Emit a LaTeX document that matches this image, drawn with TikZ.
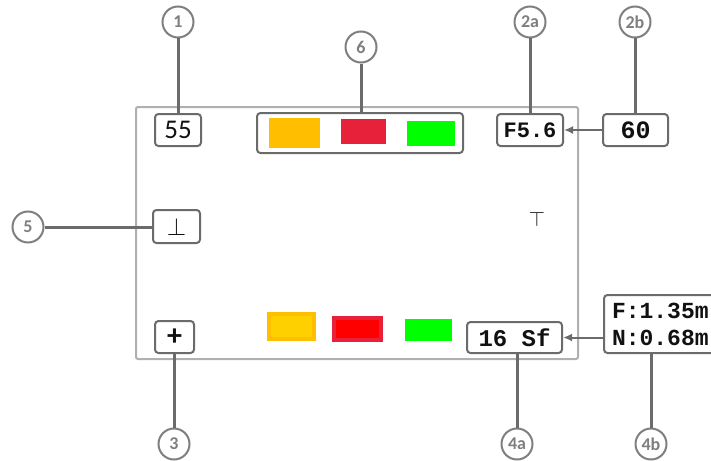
\documentclass[tikz,border=0pt]{standalone}
\usepackage{fontspec}
\setmainfont{Carlito}
\newfontfamily\vfmono{Liberation Mono}
\usetikzlibrary{arrows.meta,positioning}
\definecolor{vfFrame}{HTML}{B0B0B0}
\definecolor{vfLine}{HTML}{6B6B6B}
\definecolor{vfTag}{HTML}{7F7F7F}
\definecolor{vfInk}{HTML}{111111}
\definecolor{vfAmber}{HTML}{FFBF00}
\definecolor{vfYellow}{HTML}{FFD000}
\definecolor{vfCrimson}{HTML}{E8213A}
\definecolor{vfRed}{HTML}{FF0000}
\definecolor{vfGreen}{HTML}{00FF00}
\tikzset{
  every picture/.style={text=vfInk},
  vf frame/.style={draw=vfFrame, line width=2pt, rounded corners=2pt},
  vf box/.style={draw=vfLine, line width=2pt, rounded corners=3.5pt,
    fill=white, inner sep=0pt, minimum height=32pt},
  vf tag/.style={circle, draw=vfTag, line width=2pt, fill=white,
    minimum size=31pt, inner sep=0pt, text=vfTag,
    font=\bfseries\fontsize{18}{18}\selectfont},
  vf lead/.style={draw=vfLine, line width=3pt},
  vf arrow/.style={-{Latex[length=9pt,width=8pt]}, draw=vfLine,
    line width=2pt},
  vf mono/.style={font=\vfmono\bfseries\fontsize{#1}{27}\selectfont},
  vf mono/.default=24,
  vf sans/.style={font=\fontsize{27}{27}\selectfont}
}
\begin{document}
\begin{tikzpicture}[x=1pt,y=-1pt]
  \useasboundingbox (0,0) rectangle (711,460);
  \draw[vf frame] (136,107) rectangle (578,359);

  % readouts in the frame
  \node[vf box, vf sans, minimum width=46pt] (iso) at (178,130) {55};
  \node[vf box, minimum width=206pt, minimum height=40pt] (wb) at (360,133) {};
  \fill[vfAmber] (269,118) rectangle (320,148);
  \fill[vfCrimson] (341,119) rectangle (386,144);
  \fill[vfGreen] (407,121) rectangle (455,146);
  \node[vf box, vf mono=22, minimum width=66pt] (ap) at (530,130) {F5.6};
  \node[vf box, vf mono=25, minimum width=65pt] (sh) at (635.5,130) {60};
  \node[vf box, minimum width=47pt, minimum height=33pt,
    font=\fontsize{24}{24}\selectfont] (fl) at (176.5,226.5) {$\perp$};
  \node[font=\fontsize{22}{22}\selectfont] (tp) at (537,219) {$\top$};
  \node[vf box, minimum width=39pt, font=\bfseries\fontsize{30}{30}\selectfont]
    (ev) at (174.5,337) {+};
  \filldraw[draw=vfAmber, fill=vfYellow, line width=4pt] (269,314) rectangle (314,339);
  \filldraw[draw=vfCrimson, fill=vfRed, line width=4pt] (334,318) rectangle (381,340);
  \fill[vfGreen] (405,319) rectangle (452,341);
  \node[vf box, vf mono, minimum width=95pt, minimum height=31pt]
    (fc) at (514.5,337.5) {16 Sf};
  \node[vf box, vf mono=23, minimum height=58pt, align=left, inner xsep=8pt,
    anchor=west] (ds) at (603,324) {F:1.35m\\N:0.68m};

  % numbered callouts
  \node[vf tag] (t1) at (178,22) {1};
  \node[vf tag] (t6) at (361,47) {6};
  \node[vf tag] (t2a) at (530,22) {2a};
  \node[vf tag] (t2b) at (635,22) {2b};
  \node[vf tag] (t5) at (28,227) {5};
  \node[vf tag] (t3) at (174,444) {3};
  \node[vf tag] (t4a) at (517,444) {4a};
  \node[vf tag] (t4b) at (651,444) {4b};

  \draw[vf lead] (t1) -- (t1 |- iso.north);
  \draw[vf lead] (t6) -- (t6 |- wb.north);
  \draw[vf lead] (t2a) -- (t2a |- ap.north);
  \draw[vf lead] (t2b) -- (t2b |- sh.north);
  \draw[vf lead] (t5) -- (t5 -| fl.west);
  \draw[vf lead] (t3) -- (t3 |- ev.south);
  \draw[vf lead] (t4a) -- (t4a |- fc.south);
  \draw[vf lead] (t4b) -- (t4b |- ds.south);

  \draw[vf arrow] (sh) -- (ap);
  \draw[vf arrow] (ds.west |- fc.east) -- (fc.east);
\end{tikzpicture}
\end{document}
